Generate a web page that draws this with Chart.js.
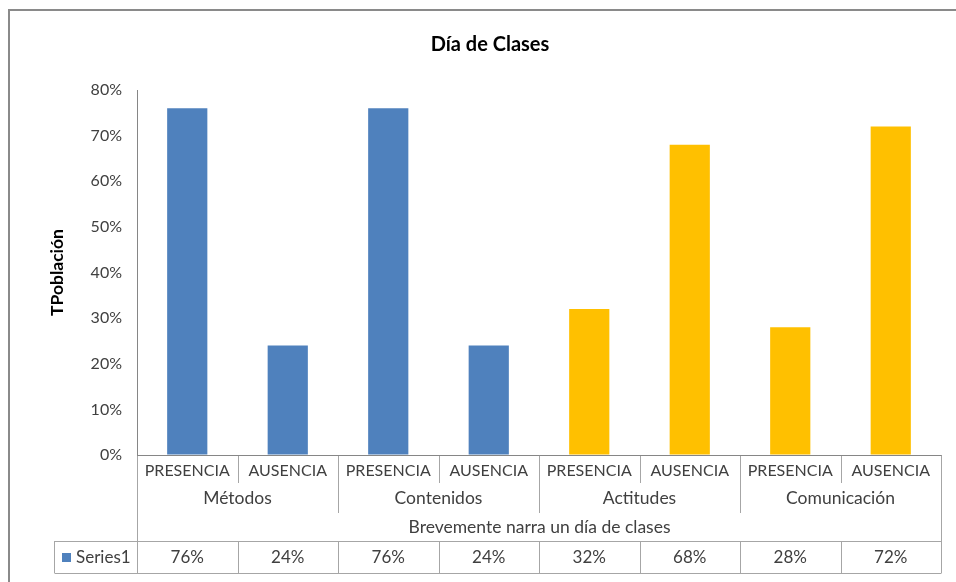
<!DOCTYPE html>
<html>
<head>
<meta charset="utf-8">
<script src="https://cdn.jsdelivr.net/npm/chart.js@4.4.0/dist/chart.umd.min.js"></script>
<style>
html, body { margin: 0; padding: 0; background: #fff; overflow: hidden; }
#wrap { position: relative; width: 956px; height: 582px; overflow: hidden; }
#frame { position: absolute; left: 8px; top: 9px; width: 1000px; height: 700px;
         border: 2px solid #8a8a8a; box-sizing: border-box; pointer-events: none; }
canvas { position: absolute; left: 0; top: 0; }
</style>
</head>
<body>
<div id="wrap">
  <canvas id="chart" width="980" height="600"></canvas>
  <div id="frame"></div>
</div>
<script>
// data
const groups = ["Métodos", "Contenidos", "Actitudes", "Comunicación"];
const subLabels = ["PRESENCIA", "AUSENCIA", "PRESENCIA", "AUSENCIA",
                   "PRESENCIA", "AUSENCIA", "PRESENCIA", "AUSENCIA"];
const values = [76, 24, 76, 24, 32, 68, 28, 72];
const yTicks = [0, 10, 20, 30, 40, 50, 60, 70, 80];
const seriesName = "Series1";
const chartTitle = "Día de Clases";
const xTitle = "Brevemente narra un día de clases";
const yTitle = "TPoblación";

// styles
const BLUE = "#4F81BD";
const GOLD = "#FFC000";
const barColors = subLabels.map((_, i) => i < 4 ? BLUE : GOLD);
const FONT = "Lato, 'Open Sans', sans-serif";
const TEXT = "#404040";
const LINE = "#A6A6A6";
const AXIS = "#868686";

const tablePlugin = {
    id: "dataTable",
    afterDraw(chart) {
        const ctx = chart.ctx;
        const x = chart.scales.x;
        const base = chart.chartArea.bottom;
        const n = subLabels.length;
        const step = x.getPixelForValue(1) - x.getPixelForValue(0);
        const edge = i => Math.round(x.getPixelForValue(0) - step / 2 + i * step) + 0.5;
        const r1 = base + 28, r2 = base + 58, r3 = base + 86, r4 = base + 118;
        const tableLeft = 54.5;
        const left = edge(0), right = edge(n);

        ctx.save();
        ctx.lineWidth = 1;
        ctx.strokeStyle = LINE;
        ctx.beginPath();
        // left / right borders
        ctx.moveTo(left, base); ctx.lineTo(left, r4);
        ctx.moveTo(right, base); ctx.lineTo(right, r4);
        // inner separators
        for (let i = 1; i < n; i++) {
            const yEnd = i % 2 === 0 ? r2 : r1;
            ctx.moveTo(edge(i), base); ctx.lineTo(edge(i), yEnd);
            ctx.moveTo(edge(i), r3); ctx.lineTo(edge(i), r4);
        }
        // series row
        ctx.moveTo(tableLeft, r3 + 0.5); ctx.lineTo(right, r3 + 0.5);
        ctx.moveTo(tableLeft, r4 + 0.5); ctx.lineTo(right, r4 + 0.5);
        ctx.moveTo(tableLeft, r3); ctx.lineTo(tableLeft, r4);
        ctx.stroke();

        // axis line
        ctx.strokeStyle = AXIS;
        ctx.beginPath();
        ctx.moveTo(left - 0.5, base + 0.5); ctx.lineTo(right, base + 0.5);
        ctx.stroke();

        // texts
        ctx.fillStyle = TEXT;
        ctx.textAlign = "center";
        ctx.textBaseline = "middle";
        subLabels.forEach((s, i) => {
            const cx = x.getPixelForValue(i);
            ctx.font = "16px " + FONT;
            ctx.fillText(s, cx, base + 16);
            ctx.font = "17px " + FONT;
            ctx.fillText(values[i] + "%", cx, (r3 + r4) / 2 + 1);
        });
        ctx.font = "17.5px " + FONT;
        groups.forEach((g, k) => {
            const cx = (x.getPixelForValue(2 * k) + x.getPixelForValue(2 * k + 1)) / 2;
            ctx.fillText(g, cx, base + 43);
        });
        ctx.fillText(xTitle, (left + right) / 2, base + 72);

        // legend key
        ctx.fillStyle = BLUE;
        ctx.fillRect(62, (r3 + r4) / 2 - 4, 9, 9);
        ctx.fillStyle = TEXT;
        ctx.textAlign = "left";
        ctx.font = "17px " + FONT;
        ctx.fillText(seriesName, 76, (r3 + r4) / 2 + 1);
        ctx.restore();
    }
};

new Chart(document.getElementById("chart"), {
    type: "bar",
    data: {
        labels: subLabels,
        datasets: [{
            label: seriesName,
            data: values,
            backgroundColor: barColors,
            barPercentage: 0.4,
            categoryPercentage: 1.0
        }]
    },
    options: {
        responsive: false,
        animation: false,
        layout: { padding: { left: 39, right: 39, top: 0, bottom: 145 } },
        plugins: {
            legend: { display: false },
            tooltip: { enabled: false },
            title: {
                display: true,
                text: chartTitle,
                color: "#000",
                font: { family: FONT, size: 20, weight: "bold" },
                padding: { top: 33, bottom: 33 }
            }
        },
        scales: {
            x: { display: false },
            y: {
                min: 0,
                max: 80,
                afterBuildTicks: s => { s.ticks = yTicks.map(v => ({ value: v })); },
                afterFit: s => { s.width = 98; },
                ticks: {
                    padding: 15,
                    color: TEXT,
                    font: { family: FONT, size: 16 },
                    callback: v => v + "%"
                },
                grid: { drawOnChartArea: false, drawTicks: false },
                border: { color: AXIS },
                title: {
                    display: true,
                    text: yTitle,
                    color: "#000",
                    font: { family: FONT, size: 17.5, weight: "bold" },
                    padding: { top: 8, bottom: 0 }
                }
            }
        }
    },
    plugins: [tablePlugin]
});
</script>
</body>
</html>
